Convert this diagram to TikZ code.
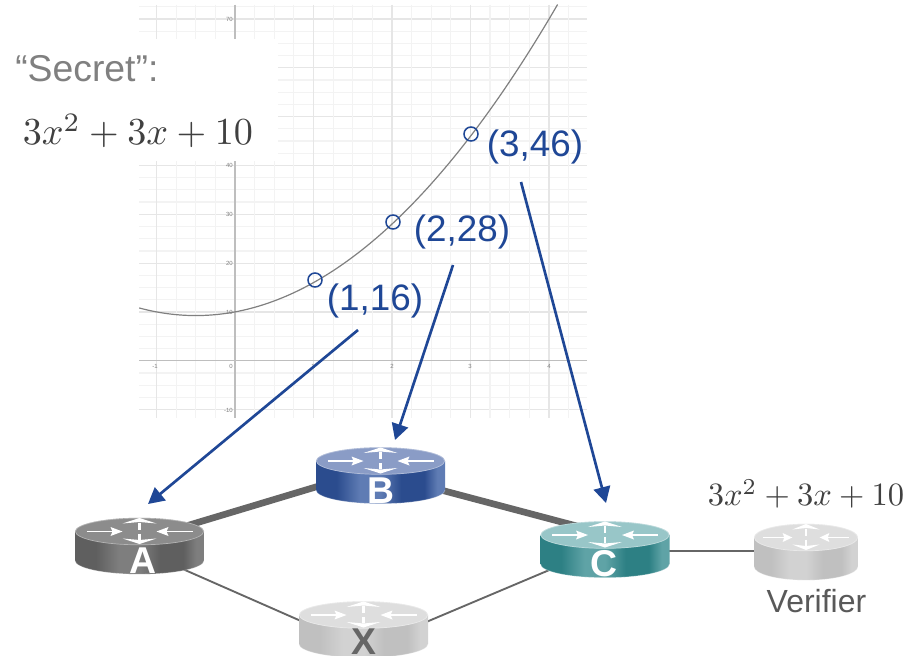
\documentclass[tikz,border=0pt]{standalone}
\usepackage[no-math]{fontspec}
\setmainfont{Liberation Sans}
\usetikzlibrary{arrows.meta,calc}
\definecolor{navy}{HTML}{1F4796}
\definecolor{linkgray}{HTML}{666666}
\definecolor{gridmajor}{HTML}{E6E6E6}
\definecolor{gridminor}{HTML}{F3F3F3}
\definecolor{axisgray}{HTML}{BEBEBE}
% router colours
\definecolor{Ad}{HTML}{5F5F5F}\definecolor{Al}{HTML}{7E7E7E}\definecolor{At}{HTML}{8C8C8C}
\definecolor{Bd}{HTML}{2B4C8E}\definecolor{Bl}{HTML}{5F7CB4}\definecolor{Bt}{HTML}{8A9CC6}
\definecolor{Cd}{HTML}{2D8084}\definecolor{Cl}{HTML}{5FA3A6}\definecolor{Ct}{HTML}{98C6C8}
\definecolor{Xd}{HTML}{C0C0C0}\definecolor{Xl}{HTML}{D2D2D2}\definecolor{Xt}{HTML}{DEDEDE}
\newcommand{\mkshade}[1]{%
\pgfdeclarehorizontalshading{side#1}{100bp}{color(0bp)=(#1d); color(25bp)=(#1d); color(33bp)=(#1d); color(42bp)=(#1l); color(50bp)=(#1l); color(58bp)=(#1d); color(67bp)=(#1d); color(72bp)=(#1l); color(75bp)=(#1l); color(100bp)=(#1l)}}
\mkshade{A}\mkshade{B}\mkshade{C}\mkshade{X}
\tikzset{
  routerbox/.style={minimum width=96.75pt,minimum height=43.5pt,inner sep=0pt},
  iconline/.style={white,line width=1.1pt},
  iconhead/.style={fill=white,draw=none},
  hopline/.style={navy,line width=2pt,-{Triangle[length=12pt,width=12.5pt]}},
  thicklink/.style={linkgray,line width=5pt},
  thinlink/.style={linkgray,line width=1.4pt},
  pointmark/.style={circle,draw=navy,line width=1.15pt,minimum size=10.5pt,inner sep=0pt},
  pointlabel/.style={text=navy,font=\fontsize{27.6}{30}\selectfont,inner sep=0pt},
  routerlabel/.style={text=white,font=\fontsize{28}{30}\selectfont\bfseries,inner sep=0pt},
  ticklabel/.style={text=gray,font=\fontsize{4.5}{5}\selectfont,inner sep=0pt},
  eqn/.style={text=black!75,inner sep=0pt},
}
\newcommand{\routershape}[3]{% position node, colour prefix, x-scale
\begin{scope}[shift={(#1.center)},xscale=#3]
  \path[shading=side#2] (-64.5,-14.5) -- (-64.5,14.5)
    .. controls (-64.5,22) and (-35.6,28.2) .. (0,28.2)
    .. controls (35.6,28.2) and (64.5,22) .. (64.5,14.5)
    -- (64.5,-14.5) -- cycle;
  \draw[white,opacity=.3,line width=.6pt] (-64.5,14.5)
    .. controls (-64.5,22) and (-35.6,28.2) .. (0,28.2)
    .. controls (35.6,28.2) and (64.5,22) .. (64.5,14.5);
  \fill[#2t] (0,-14.5) ellipse [x radius=64.5,y radius=13.7];
  \draw[white,opacity=.35,line width=.5pt] (0,-14.5) ellipse [x radius=64,y radius=13.3];
  \begin{scope}[shift={(0,-14.5)}]
    \draw[iconline] (-53,0) -- (-24,0);
    \fill[iconhead] (-17,0) -- (-29,-4.5) -- (-27,0) -- (-29,4.5) -- cycle;
    \draw[iconline] (53,0) -- (24,0);
    \fill[iconhead] (17,0) -- (29,-4.5) -- (27,0) -- (29,4.5) -- cycle;
    \draw[iconline,line width=2.2pt] (0,-2) -- (0,-9);
    \fill[iconhead] (0,-13.5) -- (17,-8) -- (0,-9.5) -- (-17,-8) -- cycle;
    \draw[iconline,line width=2.2pt] (0,2) -- (0,8);
    \fill[iconhead] (0,12.5) -- (17,7) -- (0,8.5) -- (-17,7) -- cycle;
  \end{scope}
\end{scope}}
\begin{document}
\begin{tikzpicture}[x=0.75pt,y=-0.75pt]
\useasboundingbox (0,0) rectangle (914,656);
\clip (0,0) rectangle (914,656);
\fill[white] (0,0) rectangle (914,656);
% graph paper
\foreach \k in {-4,...,29}{
  \pgfmathtruncatemacro{\m}{mod(\k+40,4)}
  \ifnum\m=0 \draw[gridmajor,line width=.9pt] (139,{360.7-12.2*\k}) -- (587,{360.7-12.2*\k});
  \else \draw[gridminor,line width=.9pt] (139,{360.7-12.2*\k}) -- (587,{360.7-12.2*\k}); \fi}
\foreach \k in {-4,...,17}{
  \pgfmathtruncatemacro{\m}{mod(\k+40,4)}
  \ifnum\m=0 \draw[gridmajor,line width=1pt] ({235+19.62*\k},5) -- ({235+19.62*\k},418);
  \else \draw[gridminor,line width=.9pt] ({235+19.62*\k},5) -- ({235+19.62*\k},418); \fi}
\draw[axisgray,line width=.9pt] (139,360.7) -- (587,360.7);
\draw[axisgray,line width=1.3pt] (235,5) -- (235,418);
\foreach \v/\yy in {70/19,40/165,30/214,20/263,10/312,-10/410}
  \node[ticklabel,anchor=east] at (233,\yy) {\v};
\foreach \v/\xx in {-1/155,0/231,1/313,2/392,3/470,4/549}
  \node[ticklabel] at (\xx,366) {\v};
\draw[gray,line width=.9pt,domain=-1.22:4.11,samples=80,smooth,variable=\t]
  plot ({235+78.5*\t},{360.7-4.88*(3*\t*\t+3*\t+10)});
% white panel with the secret
\fill[white] (0,39) rectangle (278,161);
\node[anchor=west,text=black!50,font=\fontsize{28}{30}\selectfont,inner sep=0pt] (secret) at (15,69) {“Secret”:};
\node[eqn,anchor=west,scale=2.86] (poly) at (22,131) {$3x^2+3x+10$};
% points
\node[pointmark] (p1) at (315,280) {};
\node[pointmark] (p2) at (393,222) {};
\node[pointmark] (p3) at (471,134) {};
\node[pointlabel] (l1) at (375,300.5) {(1,16)};
\node[pointlabel] (l2) at (462,231.5) {(2,28)};
\node[pointlabel] (l3) at (535,146.5) {(3,46)};
% router anchors
\node[routerbox] (A) at (139.5,546) {};
\node[routerbox] (B) at (380.5,475.5) {};
\node[routerbox] (C) at (605,549.5) {};
\node[routerbox] (X) at (363.5,629.5) {};
\node[routerbox,minimum width=78pt] (V) at (806,552) {};
% links
\draw[thicklink] ($(A.center)+(0,-6)$) -- ($(B.center)+(0,-8)$);
\draw[thicklink] ($(B.center)+(0,-1.5)$) -- ($(C.center)+(0,-16)$);
\draw[thinlink] ($(A.center)+(0,4)$) -- ($(X.center)+(0,19)$);
\draw[thinlink] ($(X.center)+(0,19)$) -- ($(C.center)+(0,-3)$);
\draw[thinlink] ($(C.center)+(0,1.5)$) -- ($(V.center)+(0,-1)$);
% routers
\routershape{A}{A}{1}
\routershape{B}{B}{1}
\routershape{C}{C}{1}
\routershape{X}{X}{1}
\routershape{V}{X}{.806}
\node[routerlabel] (Atext) at (143,560.5) {A};
\node[routerlabel] (Btext) at (381,490.5) {B};
\node[routerlabel] (Ctext) at (604,563.5) {C};
\node[routerlabel,text=linkgray] (Xtext) at (364,641.5) {X};
\node[text=black!65,font=\fontsize{24}{26}\selectfont,inner sep=0pt] (Vtext) at (816.5,601) {Verifier};
\node[eqn,scale=2.44] (polyv) at (806,494) {$3x^2+3x+10$};
% arrows
\coordinate (s1) at (358,330);\coordinate (e1) at (148,504);
\coordinate (s2) at (453,265);\coordinate (e2) at (395,440);
\coordinate (s3) at (521,182);\coordinate (e3) at (606,503);
\draw[hopline] (s1) -- (e1);
\draw[hopline] (s2) -- (e2);
\draw[hopline] (s3) -- (e3);
\end{tikzpicture}
\end{document}
